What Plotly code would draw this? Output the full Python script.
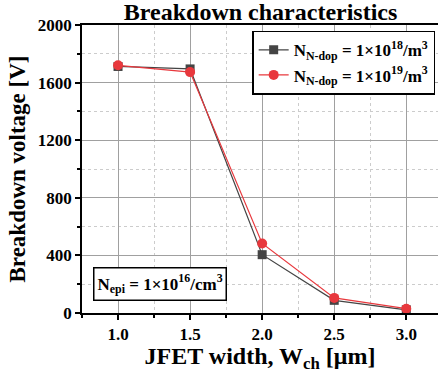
import plotly.graph_objects as go

widths = [1.0, 1.5, 2.0, 2.5, 3.0]
bv_18 = [1712, 1695, 405, 88, 22]
bv_19 = [1720, 1673, 483, 105, 30]
name_18 = "<b>N<sub>N-dop</sub> = 1×10<sup>18</sup>/m<sup>3</sup></b>"
name_19 = "<b>N<sub>N-dop</sub> = 1×10<sup>19</sup>/m<sup>3</sup></b>"
x_ticks = [1.0, 1.5, 2.0, 2.5, 3.0]
x_ticklabels = ["1.0", "1.5", "2.0", "2.5", "3.0"]
y_ticks = [0, 400, 800, 1200, 1600, 2000]

FONT = "Liberation Serif"

fig = go.Figure()
fig.add_trace(go.Scatter(
    x=widths, y=bv_18, name=name_18, mode="lines+markers",
    line=dict(color="#444444", width=1.2),
    marker=dict(symbol="square", size=9, color="#444444"),
))
fig.add_trace(go.Scatter(
    x=widths, y=bv_19, name=name_19, mode="lines+markers",
    line=dict(color="#e8383d", width=1.2),
    marker=dict(symbol="circle", size=10, color="#e8383d"),
))

axis_common = dict(
    showline=True, linecolor="black", linewidth=1.5,
    ticks="outside", ticklen=5, tickwidth=1.5, tickcolor="black",
    showgrid=True, gridcolor="#a0a0a0", gridwidth=1,
    zeroline=False,
    tickfont=dict(family=FONT, size=17, color="black", weight="bold"),
    minor=dict(ticks="outside", ticklen=3, tickcolor="black", showgrid=True,
               gridcolor="#cccccc", griddash="dot", gridwidth=1),
)

fig.update_layout(
    width=438, height=373,
    margin=dict(l=82, r=0, t=25, b=60),
    paper_bgcolor="white", plot_bgcolor="white",
    font=dict(family=FONT, color="black"),
    title=dict(text="<b>Breakdown characteristics</b>", x=0.595, xanchor="center",
               y=0.97, yanchor="middle", font=dict(family=FONT, size=24, color="black")),
    xaxis=dict(
        range=[0.75, 3.22], tickvals=x_ticks, ticktext=x_ticklabels,
        mirror=True,
        title=dict(text="<b>JFET width, W<sub>ch</sub> [μm]</b>",
                   font=dict(family=FONT, size=24, color="black"), standoff=5),
        **axis_common,
    ),
    yaxis=dict(
        range=[0, 2000], tickvals=y_ticks,
        title=dict(text="<b>Breakdown voltage [V]</b>",
                   font=dict(family=FONT, size=23, color="black"), standoff=6),
        **axis_common,
    ),
    legend=dict(
        x=0.478, y=0.98, xanchor="left", yanchor="top",
        bgcolor="white", bordercolor="black", borderwidth=1.5,
        font=dict(family=FONT, size=17, color="black"),
        tracegroupgap=0, itemwidth=30,
    ),
)
fig.update_xaxes(minor=dict(dtick=0.25, tick0=0.75))
fig.update_yaxes(minor=dict(dtick=200))

fig.add_annotation(
    x=0.03, y=0.04, xref="paper", yref="paper", xanchor="left", yanchor="bottom",
    text="<b>N<sub>epi</sub> = 1×10<sup>16</sup>/cm<sup>3</sup></b>",
    showarrow=False, bgcolor="white", bordercolor="black", borderwidth=1.5,
    borderpad=3, font=dict(family=FONT, size=17, color="black"),
)

fig.write_html("out.html", config={"displayModeBar": False},
               post_script="document.body.style.margin='0px';")
